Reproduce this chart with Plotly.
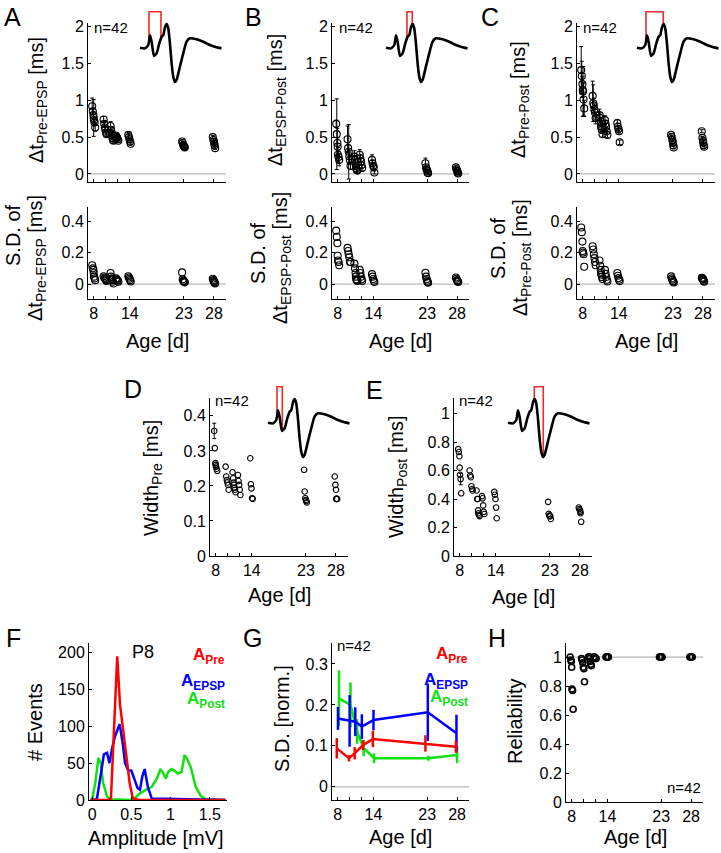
import numpy as np
import plotly.graph_objects as go

W, H = 721, 853
FONT = "Liberation Sans, Arial, sans-serif"

# ---------------- data ----------------
ages = [7.75, 7.85, 7.95, 8.0, 8.05, 8.15, 8.25,
        9.65, 9.75, 9.85, 9.95, 10.05, 10.15,
        10.8, 10.9, 11.0, 11.05, 11.1, 11.2, 11.3,
        11.7, 11.8, 11.9, 12.0, 12.1,
        13.75, 13.85, 13.95, 14.05, 14.15,
        22.7, 22.8, 22.9, 23.0, 23.05, 23.15,
        27.8, 27.9, 28.0, 28.05, 28.1, 28.2]

dt_pre_epsp = [0.92, 0.85, 0.80, 0.76, 0.73, 0.70, 0.63,
               0.74, 0.68, 0.63, 0.60, 0.56, 0.54,
               0.65, 0.60, 0.55, 0.53, 0.49, 0.46, 0.45,
               0.52, 0.50, 0.49, 0.47, 0.45,
               0.53, 0.50, 0.47, 0.44, 0.41,
               0.44, 0.42, 0.39, 0.38, 0.37, 0.36,
               0.50, 0.46, 0.44, 0.41, 0.39, 0.35]
dt_pre_epsp_err = [0.11, 0.04, 0.03, 0.25, 0.03, 0.04, 0.05,
                   0.04, 0.03, 0.03, 0.03, 0.03, 0.03,
                   0.06, 0.03, 0.03, 0.03, 0.02, 0.02, 0.02,
                   0.03, 0.02, 0.02, 0.02, 0.02,
                   0.03, 0.03, 0.02, 0.02, 0.02,
                   0.02, 0.02, 0.03, 0.02, 0.05, 0.02,
                   0.02, 0.02, 0.02, 0.02, 0.02, 0.02]
sd_dt_pre_epsp = [0.12, 0.10, 0.09, 0.07, 0.047, 0.036, 0.025,
                  0.05, 0.042, 0.036, 0.030, 0.025, 0.019,
                  0.07, 0.047, 0.036, 0.03, 0.025, 0.015, 0.004,
                  0.036, 0.03, 0.025, 0.021, 0.015,
                  0.05, 0.042, 0.034, 0.025, 0.017,
                  0.074, 0.03, 0.021, 0.017, 0.013, 0.011,
                  0.034, 0.025, 0.019, 0.013, 0.008, 0.004]

dt_epsp_post = [0.68, 0.54, 0.42, 0.37, 0.26, 0.23, 0.19,
                0.47, 0.35, 0.30, 0.24, 0.19, 0.11,
                0.235, 0.19, 0.145, 0.11, 0.077, 0.054, 0.045,
                0.26, 0.21, 0.17, 0.12, 0.08,
                0.19, 0.145, 0.11, 0.09, 0.02,
                0.145, 0.09, 0.063, 0.045, 0.018, 0.01,
                0.09, 0.063, 0.045, 0.032, 0.014, 0.005]
dt_epsp_post_err = [0.05, 0.48, 0.2, 0.12, 0.1, 0.08, 0.08,
                    0.18, 0.05, 0.37, 0.1, 0.06, 0.05,
                    0.08, 0.06, 0.06, 0.05, 0.05, 0.04, 0.04,
                    0.07, 0.05, 0.05, 0.04, 0.04,
                    0.07, 0.04, 0.03, 0.03, 0.02,
                    0.07, 0.03, 0.03, 0.02, 0.02, 0.02,
                    0.03, 0.02, 0.02, 0.02, 0.02, 0.02]
sd_dt_epsp_post = [0.34, 0.30, 0.26, 0.18, 0.15, 0.14, 0.12,
                   0.23, 0.21, 0.19, 0.17, 0.14, 0.14,
                   0.13, 0.10, 0.07, 0.047, 0.03, 0.025, 0.02,
                   0.09, 0.07, 0.047, 0.03, 0.02,
                   0.063, 0.047, 0.032, 0.021, 0.013,
                   0.072, 0.047, 0.032, 0.021, 0.013, 0.008,
                   0.042, 0.034, 0.025, 0.021, 0.017, 0.013]

dt_pre_post = [1.41, 1.33, 1.22, 1.14, 1.12, 1.01, 0.89,
               1.06, 0.96, 0.93, 0.87, 0.83, 0.76,
               0.80, 0.76, 0.71, 0.65, 0.62, 0.60, 0.54,
               0.73, 0.68, 0.64, 0.58, 0.53,
               0.69, 0.64, 0.61, 0.58, 0.43,
               0.53, 0.50, 0.46, 0.43, 0.39, 0.36,
               0.58, 0.49, 0.45, 0.43, 0.39, 0.37]
dt_pre_post_err = [0.32, 0.2, 0.1, 0.1, 0.34, 0.22, 0.11,
                   0.2, 0.25, 0.1, 0.08, 0.1, 0.08,
                   0.08, 0.07, 0.06, 0.05, 0.05, 0.05, 0.04,
                   0.06, 0.05, 0.05, 0.04, 0.04,
                   0.05, 0.05, 0.04, 0.04, 0.03,
                   0.02, 0.02, 0.02, 0.02, 0.02, 0.02,
                   0.02, 0.02, 0.02, 0.02, 0.02, 0.02]
sd_dt_pre_post = [0.36, 0.33, 0.27, 0.21, 0.20, 0.19, 0.11,
                  0.24, 0.22, 0.19, 0.165, 0.14, 0.12,
                  0.15, 0.116, 0.09, 0.07, 0.06, 0.045, 0.032,
                  0.09, 0.065, 0.045, 0.027, 0.017,
                  0.07, 0.053, 0.038, 0.027, 0.02,
                  0.049, 0.036, 0.027, 0.019, 0.015, 0.01,
                  0.04, 0.036, 0.032, 0.027, 0.02, 0.015]

width_pre = [0.357, 0.308, 0.265, 0.26, 0.255, 0.249, 0.243,
             0.255, 0.227, 0.217, 0.21, 0.203, 0.189,
             0.239, 0.222, 0.21, 0.203, 0.195, 0.189, 0.182,
             0.231, 0.214, 0.203, 0.189, 0.174,
             0.279, 0.205, 0.193, 0.165, 0.163,
             0.246, 0.184, 0.165, 0.16, 0.157, 0.153,
             0.227, 0.203, 0.189, 0.163, 0.163, 0.163]
width_pre_err = [0.022] + [0.0] * 41

width_post = [0.75, 0.73, 0.70, 0.62, 0.57, 0.54, 0.44,
              0.60, 0.565, 0.553, 0.49, 0.47, 0.46,
              0.46, 0.40, 0.40, 0.32, 0.30, 0.29, 0.28,
              0.42, 0.405, 0.355, 0.31, 0.295,
              0.45, 0.43, 0.40, 0.34, 0.265,
              0.38, 0.296, 0.284, 0.28, 0.28, 0.26,
              0.34, 0.33, 0.32, 0.31, 0.30, 0.24]
width_post_err = [0.0] * 5 + [0.04] + [0.0] * 36

reliability = [1.0, 0.98, 0.97, 0.93, 0.78, 0.77, 0.64,
               0.99, 0.98, 0.96, 0.93, 0.92, 0.83,
               1.0, 1.0, 1.0, 0.99, 0.97, 0.95, 0.94,
               1.0, 1.0, 0.995, 0.99, 0.99,
               1.0, 1.0, 1.0, 1.0, 1.0,
               1.0, 1.0, 1.0, 1.0, 1.0, 1.0,
               1.0, 1.0, 1.0, 1.0, 1.0, 1.0]

# Panel F: amplitude histograms at P8
pre_amp = [-0.02, 0.2, 0.24, 0.32, 0.355, 0.42, 0.48, 0.52, 0.6, 1.7]
pre_cnt = [0, 0, 2, 195, 130, 72, 22, 2, 0, 0]
epsp_amp = [-0.02, 0.02, 0.06, 0.12, 0.15, 0.19, 0.22, 0.25, 0.29, 0.35, 0.39,
            0.42, 0.46, 0.50, 0.54, 0.58, 0.61, 0.64, 0.67, 0.71, 0.76, 1.7]
epsp_cnt = [0, 0, 1, 41, 62, 64, 50, 68, 86, 103, 77,
            50, 40, 40, 27, 16, 14, 32, 42, 18, 2, 0]
post_amp = [-0.02, 0.0, 0.04, 0.08, 0.11, 0.14, 0.19, 0.23, 0.52, 0.61, 0.69, 0.76,
            0.82, 0.87, 0.90, 0.94, 0.97, 1.01, 1.05, 1.09, 1.14, 1.18, 1.22,
            1.26, 1.32, 1.39, 1.45, 1.7]
post_cnt = [0, 1, 23, 57, 50, 23, 5, 1, 0, 9, 14, 18,
            28, 41, 38, 29, 38, 42, 40, 36, 38, 61, 54,
            44, 18, 5, 1, 0]

# Panel G: S.D. of amplitudes (normalised)
g_pre_age = [7.85, 9.9, 10.85, 12.25, 13.9, 22.7, 27.8]
g_pre_sd = [0.094, 0.07, 0.082, 0.102, 0.117, 0.106, 0.098]
g_pre_err = [0.025, 0.008, 0.015, 0.012, 0.02, 0.02, 0.015]
g_epsp_age = [8.05, 10.0, 10.95, 12.05, 14.0, 23.1, 27.9]
g_epsp_sd = [0.167, 0.161, 0.159, 0.147, 0.163, 0.182, 0.131]
g_epsp_err = [0.028, 0.063, 0.035, 0.03, 0.025, 0.07, 0.045]
g_post_age = [8.22, 10.15, 11.25, 12.35, 14.1, 23.2, 28.0]
g_post_sd = [0.216, 0.200, 0.135, 0.095, 0.070, 0.070, 0.078]
g_post_err = [0.068, 0.055, 0.03, 0.02, 0.012, 0.006, 0.02]

# Example waveform for the insets (arbitrary units)
wave_t = [0, 15, 25, 30, 35, 42, 50, 58, 65, 70, 75, 80, 85, 90, 95, 100, 105,
          110, 120, 130, 140, 150, 170, 190, 210, 230, 245]
wave_v = [1.07, 1.05, 1.15, 1.44, 1.25, 0.82, 0.90, 1.20, 1.40, 1.45, 1.68, 1.78,
          1.65, 1.20, 0.60, 0.20, 0.04, 0.10, 0.50, 0.90, 1.25, 1.35, 1.32, 1.25,
          1.15, 1.08, 1.05]
ev_pre, ev_pre_end, ev_epsp, ev_post, ev_post_end = 27, 43, 63, 79, 106
box_top = 2.15

age_ticks = [8, 10, 12, 14, 23, 28]
age_ticktext = ["8", "", "", "14", "23", "28"]

# ---------------- figure ----------------
fig = go.Figure()
layout = dict(template="none", width=W, height=H,
              margin=dict(l=0, r=0, t=0, b=0, pad=0, autoexpand=False),
              paper_bgcolor="white", plot_bgcolor="white", showlegend=False,
              font=dict(family=FONT, color="black", size=16))
annotations = []
shapes = []


def xd(x0, x1):
    return [x0 / W, x1 / W]


def yd(y0, y1):
    return [1 - y1 / H, 1 - y0 / H]


def base_axis(**kw):
    d = dict(showline=True, linecolor="black", linewidth=1, mirror=False,
             ticks="inside", ticklen=3, tickcolor="black", tickwidth=1,
             showgrid=False, zeroline=False, automargin=False,
             tickfont=dict(family=FONT, size=16, color="black"))
    d.update(kw)
    return d


def add_axes(i, xpx, ypx, xkw, ykw):
    sfx = "" if i == 1 else str(i)
    layout["xaxis" + sfx] = base_axis(domain=xd(*xpx), anchor="y" + sfx, **xkw)
    layout["yaxis" + sfx] = base_axis(domain=yd(*ypx), anchor="x" + sfx, **ykw)
    return "x" + sfx, "y" + sfx


def hline(xr, yr, yval):
    shapes.append(dict(type="line", xref=xr + " domain", yref=yr, x0=0, x1=1,
                       y0=yval, y1=yval, line=dict(color="#a8a8a8", width=1),
                       layer="below"))


def ann(text, px, py, size=16, xanchor="center", yanchor="middle", angle=0,
        color="black"):
    annotations.append(dict(text=text, x=px / W, y=1 - py / H, xref="paper",
                            yref="paper", showarrow=False, xanchor=xanchor,
                            yanchor=yanchor, textangle=angle,
                            font=dict(family=FONT, size=size, color=color)))


AGE_RANGE = [7.05, 30]
agex_top = dict(range=AGE_RANGE, tickvals=age_ticks, ticktext=age_ticktext,
                showticklabels=False)
agex = dict(range=AGE_RANGE, tickvals=age_ticks, ticktext=age_ticktext)


def scatter_panel(xr, yr, vals, err=None, size=7, lw=1.1):
    if err is not None:
        fig.add_trace(go.Scatter(
            x=ages, y=vals, mode="markers", xaxis=xr, yaxis=yr,
            marker=dict(size=0.1, color="black"),
            error_y=dict(type="data", array=err, visible=True, color="black",
                         thickness=1, width=2)))
    fig.add_trace(go.Scatter(
        x=ages, y=vals, mode="markers", xaxis=xr, yaxis=yr,
        marker=dict(symbol="circle-open", size=size, color="black",
                    line=dict(width=lw, color="black"))))


# A / B / C
cols = [(88, 226), (332, 469), (577, 715)]
tops = [(dt_pre_epsp, dt_pre_epsp_err), (dt_epsp_post, dt_epsp_post_err),
        (dt_pre_post, dt_pre_post_err)]
bots = [sd_dt_pre_epsp, sd_dt_epsp_post, sd_dt_pre_post]
idx = 1
for k in range(3):
    xr, yr = add_axes(idx, cols[k], (23, 182), agex_top,
                      dict(range=[-0.11, 2.05], tickvals=[0, 0.5, 1, 1.5, 2],
                           ticktext=["0", "0.5", "1", "1.5", "2"]))
    hline(xr, yr, 0)
    scatter_panel(xr, yr, tops[k][0], tops[k][1], size=7)
    idx += 1
    xr, yr = add_axes(idx, cols[k], (207, 299), agex,
                      dict(range=[-0.095, 0.49], tickvals=[0, 0.2, 0.4],
                           ticktext=["0", "0.2", "0.4"]))
    hline(xr, yr, 0)
    scatter_panel(xr, yr, bots[k], None, size=7)
    idx += 1

# D
xr, yr = add_axes(7, (210, 348), (398, 556), agex,
                  dict(range=[0, 0.451], tickvals=[0, 0.1, 0.2, 0.3, 0.4],
                       ticktext=["0", "0.1", "0.2", "0.3", "0.4"]))
fig.add_trace(go.Scatter(
    x=[a for a, e in zip(ages, width_pre_err) if e > 0],
    y=[v for v, e in zip(width_pre, width_pre_err) if e > 0],
    mode="markers", xaxis=xr, yaxis=yr, marker=dict(size=0.1, color="black"),
    error_y=dict(type="data",
                 array=[e for e in width_pre_err if e > 0],
                 color="black", thickness=1, width=2)))
fig.add_trace(go.Scatter(x=ages, y=width_pre, mode="markers", xaxis=xr, yaxis=yr,
                         marker=dict(symbol="circle-open", size=5.5, color="black",
                                     line=dict(width=1.1, color="black"))))
# E
xr, yr = add_axes(8, (454, 592), (398, 556), agex,
                  dict(range=[0, 1.109], tickvals=[0, 0.2, 0.4, 0.6, 0.8, 1],
                       ticktext=["0", "0.2", "0.4", "0.6", "0.8", "1"]))
fig.add_trace(go.Scatter(
    x=[a for a, e in zip(ages, width_post_err) if e > 0],
    y=[v for v, e in zip(width_post, width_post_err) if e > 0],
    mode="markers", xaxis=xr, yaxis=yr, marker=dict(size=0.1, color="black"),
    error_y=dict(type="data",
                 array=[e for e in width_post_err if e > 0],
                 color="black", thickness=1, width=2)))
fig.add_trace(go.Scatter(x=ages, y=width_post, mode="markers", xaxis=xr, yaxis=yr,
                         marker=dict(symbol="circle-open", size=5.5, color="black",
                                     line=dict(width=1.1, color="black"))))

RED, BLUE, GREEN = "#ff0000", "#0000ff", "#11e011"

# F
xr, yr = add_axes(9, (89, 227), (643, 800),
                  dict(range=[-0.04, 1.72], tickvals=[0, 0.5, 1, 1.5],
                       ticktext=["0", "0.5", "1", "1.5"]),
                  dict(range=[0, 213], tickvals=[0, 50, 100, 150, 200],
                       ticktext=["0", "50", "100", "150", "200"]))
for xs, ys, c in [(post_amp, post_cnt, GREEN), (epsp_amp, epsp_cnt, BLUE),
                  (pre_amp, pre_cnt, RED)]:
    fig.add_trace(go.Scatter(x=xs, y=ys, mode="lines", xaxis=xr, yaxis=yr,
                             line=dict(color=c, width=2.5), cliponaxis=False))

# G
xr, yr = add_axes(10, (332, 469), (643, 800), agex,
                  dict(range=[-0.032, 0.351], tickvals=[0, 0.1, 0.2, 0.3],
                       ticktext=["0", "0.1", "0.2", "0.3"]))
hline(xr, yr, 0)
for xs, ys, es, c in [(g_post_age, g_post_sd, g_post_err, GREEN),
                      (g_epsp_age, g_epsp_sd, g_epsp_err, BLUE),
                      (g_pre_age, g_pre_sd, g_pre_err, RED)]:
    fig.add_trace(go.Scatter(x=xs, y=ys, mode="lines", xaxis=xr, yaxis=yr,
                             line=dict(color=c, width=2.5),
                             error_y=dict(type="data", array=es, color=c,
                                          thickness=2.5, width=0)))

# H
xr, yr = add_axes(11, (566, 703), (643, 802), agex,
                  dict(range=[0, 1.097], tickvals=[0, 0.2, 0.4, 0.6, 0.8, 1],
                       ticktext=["0", "0.2", "0.4", "0.6", "0.8", "1"]))
hline(xr, yr, 1)
fig.add_trace(go.Scatter(x=ages, y=reliability, mode="markers", xaxis=xr, yaxis=yr,
                         marker=dict(symbol="circle-open", size=6, color="black",
                                     line=dict(width=1.6, color="black"))))

# Insets with example waveform and red boxes
inset_pos = [(140, 11.7), (386, 11.7), (637, 11.7), (268, 386.7), (508, 386.7)]
inset_box = [(ev_pre, ev_epsp), (ev_epsp, ev_post), (ev_pre, ev_post),
             (ev_pre, ev_pre_end), (ev_post, ev_post_end)]
TW, VH = 81.5, 70.3
t0, t1, v0, v1 = 0, 245, 0.04, box_top
pxt = TW / (t1 - t0)
pxv = VH / (v1 - v0)
for j, ((px0, py0), (ta, tb)) in enumerate(zip(inset_pos, inset_box)):
    i = 12 + j
    xdom_px = (px0 - 6 * pxt, min(px0 + TW + 6 * pxt, W))
    ydom_px = (py0 - 0.1 * pxv, py0 + VH + 0.1 * pxv)
    xrange_hi = t0 - 6 + (xdom_px[1] - xdom_px[0]) / pxt
    layout["xaxis%d" % i] = dict(domain=xd(*xdom_px), anchor="y%d" % i,
                                 range=[t0 - 6, xrange_hi], visible=False)
    layout["yaxis%d" % i] = dict(domain=yd(*ydom_px), anchor="x%d" % i,
                                 range=[v0 - 0.1, v1 + 0.1], visible=False)
    va = float(np.interp(ta, wave_t, wave_v))
    vb = float(np.interp(tb, wave_t, wave_v))
    fig.add_trace(go.Scatter(x=[ta, ta, tb, tb], y=[va, box_top, box_top, vb],
                             mode="lines", xaxis="x%d" % i, yaxis="y%d" % i,
                             line=dict(color="#ee2a2a", width=1.6)))
    fig.add_trace(go.Scatter(x=wave_t, y=wave_v, mode="lines",
                             xaxis="x%d" % i, yaxis="y%d" % i,
                             line=dict(color="black", width=2.6, shape="spline",
                                       smoothing=0.5)))

# ---------------- text ----------------
for letter, px, py in [("A", 12, 17), ("B", 253, 17), ("C", 490, 17),
                       ("D", 133, 389), ("E", 374, 390), ("F", 13, 638),
                       ("G", 252, 638), ("H", 497, 638)]:
    ann(letter, px, py, size=25)

for px, py in [(92, 27), (337, 27), (581, 27), (213, 400), (457, 400), (335, 645)]:
    ann("n=42", px, py, size=15, xanchor="left")
ann("n=42", 703, 787, size=15, xanchor="right")

ann("Δt<sub>Pre-EPSP</sub> [ms]", 37, 100, size=20, angle=-90)
ann("Δt<sub>EPSP-Post</sub> [ms]", 276, 100, size=20, angle=-90)
ann("Δt<sub>Pre-Post</sub> [ms]", 519, 100, size=20, angle=-90)
ann("S.D. of", 13, 235, size=20, angle=-90)
ann("Δt<sub>Pre-EPSP</sub> [ms]", 36, 258, size=20, angle=-90)
ann("S.D. of", 258, 253, size=20, angle=-90)
ann("Δt<sub>EPSP-Post</sub> [ms]", 281, 258, size=20, angle=-90)
ann("S.D. of", 498, 248, size=20, angle=-90)
ann("Δt<sub>Pre-Post</sub> [ms]", 521, 258, size=20, angle=-90)
ann("Width<sub>Pre</sub> [ms]", 152, 478, size=20, angle=-90)
ann("Width<sub>Post</sub> [ms]", 398, 477, size=20, angle=-90)
ann("# Events", 35, 722, size=20, angle=-90)
ann("S.D. [norm.]", 282, 719, size=20, angle=-90)
ann("Reliability", 515, 721, size=20, angle=-90)

for px, py in [(157, 341), (400, 341), (646, 341), (279, 595), (523, 597),
               (400, 837), (635, 837)]:
    ann("Age [d]", px, py, size=20)
ann("Amplitude [mV]", 156, 838, size=20)
ann("P8", 143, 652, size=18)

for (xr_px, ys) in [(227, (656, 682, 700)), (470, (655, 681, 698))]:
    ann("<b>A<sub>Pre</sub></b>", xr_px, ys[0], size=17, xanchor="right", color=RED)
    ann("<b>A<sub>EPSP</sub></b>", xr_px, ys[1], size=17, xanchor="right", color=BLUE)
    ann("<b>A<sub>Post</sub></b>", xr_px, ys[2], size=17, xanchor="right", color=GREEN)

layout["annotations"] = annotations
layout["shapes"] = shapes
fig.update_layout(**layout)
fig.write_html("out.html",
               config={"displayModeBar": False, "staticPlot": True},
               post_script="document.body.style.margin='0';"
                           "document.body.style.padding='0';"
                           "document.body.style.overflow='hidden';")
